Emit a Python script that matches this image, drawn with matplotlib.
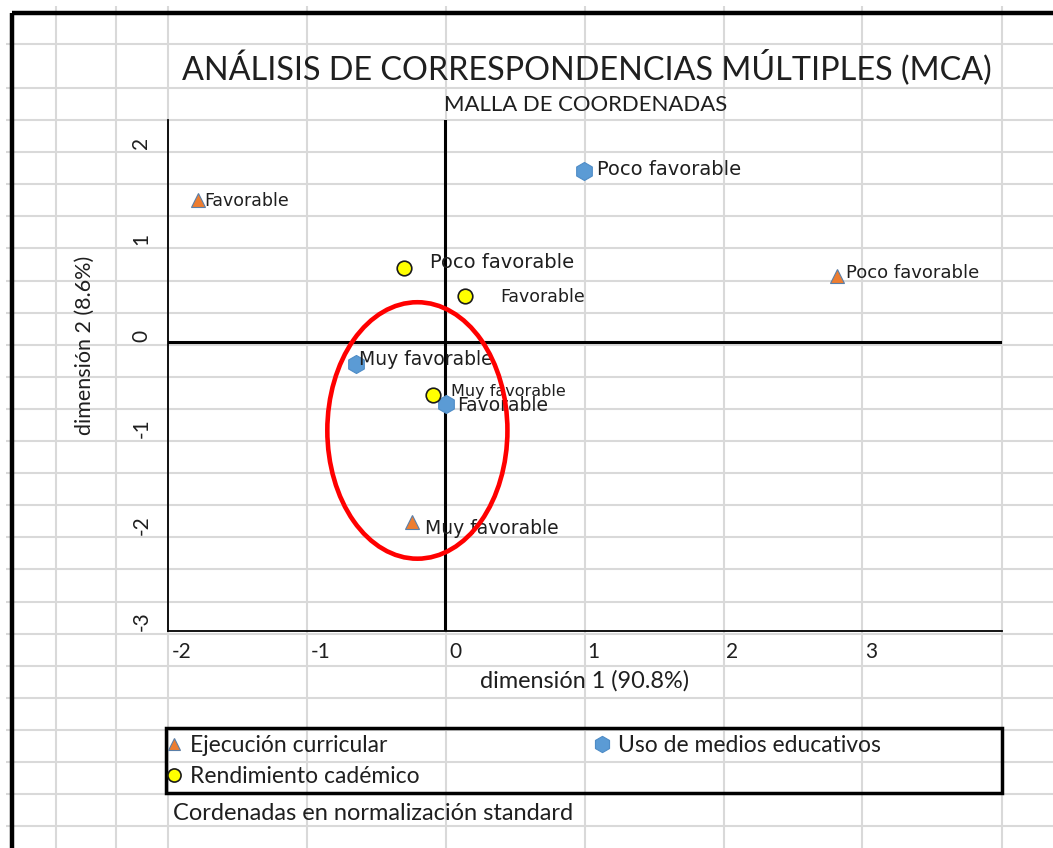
import matplotlib
matplotlib.use("Agg")
import matplotlib.pyplot as plt
from matplotlib.patches import Ellipse, Rectangle
from matplotlib.transforms import ScaledTranslation

# coordenadas MCA: (dimension 1, dimension 2)
ejec_x = [-1.78, 2.83, -0.24]
ejec_y = [1.47, 0.68, -1.87]
ejec_lab = ["Favorable", "Poco favorable", "Muy favorable"]

medios_x = [1.00, -0.64, 0.01]
medios_y = [1.77, -0.23, -0.65]
medios_lab = ["Poco favorable", "Muy favorable", "Favorable"]

rend_x = [-0.30, 0.145, -0.09]
rend_y = [0.76, 0.47, -0.55]
rend_lab = ["Poco favorable", "Favorable", "Muy favorable"]

series_names = ["Ejecución curricular", "Uso de medios educativos", "Rendimiento cadémico"]

x_ticks = [-2, -1, 0, 1, 2, 3]
y_ticks = [2, 1, 0, -1, -2, -3]

# zona resaltada (centro x, centro y, ancho, alto)
highlight = [-0.2, -0.92, 1.30, 2.66]

# desplazamiento de las etiquetas en pixeles (dx, dy)
ejec_off = [(6, -1), (9, 3), (13, -6)]
medios_off = [(13, 2), (3, 4), (11, -1)]
rend_off = [(26, 6), (35, -1), (18, 3)]

W, H = 1053, 848
fig = plt.figure(figsize=(W / 100, H / 100), dpi=100)
fig.patch.set_facecolor("white")

# fondo tipo hoja de calculo
bg = fig.add_axes([0, 0, 1, 1], zorder=-5)
bg.set_xlim(0, W)
bg.set_ylim(H, 0)
bg.axis("off")
cols = [56, 116, 168, 307, 446, 585, 724, 862, 1002]
rows = [44, 88] + [120 + 32.1 * k for k in range(23)]
bg.vlines(cols, 6, H, color="#d9d9d9", lw=1.5)
bg.hlines(rows, 6, W, color="#d9d9d9", lw=1.5)
bg.plot([12, 12], [13, H], color="black", lw=3.2, solid_capstyle="butt")
bg.plot([12, W], [13, 13], color="black", lw=3.2, solid_capstyle="butt")

FONT = "Lato"
TXT = "#1f1f1f"

fig.text(587 / W, 1 - 67 / H, "ANÁLISIS DE CORRESPONDENCIAS MÚLTIPLES (MCA)",
         ha="center", va="center", fontsize=23.3, family=FONT, color=TXT)
fig.text(586 / W, 1 - 105 / H, "MALLA DE COORDENADAS",
         ha="center", va="center", fontsize=15.9, family=FONT, color=TXT)

ax = fig.add_axes([168 / W, 1 - 631 / H, (1002 - 168) / W, (631 - 120) / H])
ax.set_facecolor("none")
ax.set_xlim(-2, 4.02)
ax.set_ylim(-3, 2.3)

for s in ["top", "right"]:
    ax.spines[s].set_visible(False)
for s in ["left", "bottom"]:
    ax.spines[s].set_color("black")
    ax.spines[s].set_linewidth(1.3)
ax.axhline(0, color="black", lw=2.2, zorder=1)
ax.axvline(0, color="black", lw=2.2, zorder=1)

ax.set_xticks(x_ticks)
ax.set_xticklabels([str(t) for t in x_ticks])
ax.set_yticks(y_ticks)
ax.set_yticklabels([str(t) for t in y_ticks])
ax.tick_params(length=0)
ax.tick_params(axis="x", pad=8)
ax.tick_params(axis="y", pad=12)
for lab in ax.get_xticklabels():
    lab.set_fontfamily(FONT)
    lab.set_fontsize(15)
    lab.set_color(TXT)
    lab.set_horizontalalignment("left")
    lab.set_transform(lab.get_transform() + ScaledTranslation(4 / 100, 0, fig.dpi_scale_trans))
for lab in ax.get_yticklabels():
    lab.set_fontfamily(FONT)
    lab.set_fontsize(15)
    lab.set_color(TXT)
    lab.set_rotation(90)
    lab.set_verticalalignment("bottom")

ax.set_xlabel("dimensión 1 (90.8%)", fontsize=16.9, family=FONT, color=TXT)
ax.set_ylabel("dimensión 2 (8.6%)", fontsize=15.5, family=FONT, color=TXT)
ax.xaxis.set_label_coords((585 - 168) / 834, (631 - 681) / 511)
ax.yaxis.set_label_coords((85 - 168) / 834, (631 - 345) / 511)
ax.xaxis.label.set_verticalalignment("center")
ax.yaxis.label.set_verticalalignment("center")

h_ejec, = ax.plot(ejec_x, ejec_y, ls="none", marker="^", ms=10,
                  mfc="#ed7d31", mec="#5a7fa8", mew=0.8, zorder=4)
h_med, = ax.plot(medios_x, medios_y, ls="none", marker="h", ms=13,
                 mfc="#5b9bd5", mec="#4f8cc6", mew=0.8, zorder=4)
h_rend, = ax.plot(rend_x, rend_y, ls="none", marker="o", ms=10.5,
                  mfc="#ffff00", mec="#1a1a1a", mew=1.2, zorder=4)

def etiquetar(xs, ys, labs, offs, sizes):
    for x, y, t, (dx, dy), fs in zip(xs, ys, labs, offs, sizes):
        ax.annotate(t, (x, y), xytext=(dx, dy), textcoords="offset pixels",
                    ha="left", va="center", fontsize=fs, color=TXT,
                    family="DejaVu Sans", zorder=5)

etiquetar(ejec_x, ejec_y, ejec_lab, ejec_off, [12.5, 13, 13.5])
etiquetar(medios_x, medios_y, medios_lab, medios_off, [14, 13.5, 13.5])
etiquetar(rend_x, rend_y, rend_lab, rend_off, [14, 12.5, 11.5])

cx, cy, ew, eh = highlight
ax.add_patch(Ellipse((cx, cy), ew, eh, fill=False, edgecolor="#ff0000", lw=3.3, zorder=6))

# recuadro de leyenda
fig.add_artist(Rectangle((166 / W, 1 - 793 / H), (1002 - 166) / W, (793 - 728) / H,
                         transform=fig.transFigure, fill=False, edgecolor="black", lw=2.5))
leg = fig.legend([h_ejec, h_rend, h_med], [series_names[0], series_names[2], series_names[1]],
                 ncol=2, loc="upper left", bbox_to_anchor=(166 / W, 1 - 735 / H),
                 frameon=False, prop={"family": FONT, "size": 16.5}, handlelength=0.7,
                 handletextpad=0.35, columnspacing=7.6, labelspacing=0.45,
                 borderpad=0, borderaxespad=0, markerscale=0.9)
for t in leg.get_texts():
    t.set_color(TXT)

fig.text(173 / W, 1 - 813 / H, "Cordenadas en normalización standard",
         ha="left", va="center", fontsize=17, family=FONT, color=TXT)

fig.savefig("out.png", dpi=100)
